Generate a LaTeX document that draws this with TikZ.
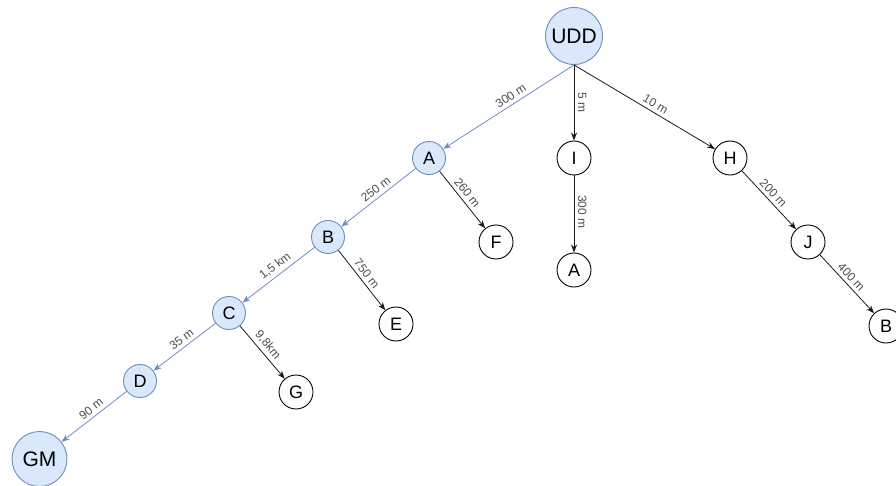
\documentclass[tikz,border=0pt]{standalone}
\usepackage{fontspec}
\setmainfont{Liberation Sans}
\usetikzlibrary{arrows.meta}
\definecolor{bluefill}{HTML}{DAE8FC}
\definecolor{bluedraw}{HTML}{6C8EBF}
\definecolor{labelgray}{HTML}{4D4D4D}
\definecolor{edgedark}{HTML}{1A1A1A}
\tikzset{
  wnode/.style={circle, draw=black, fill=white, line width=0.9pt, inner sep=0pt, minimum size=34pt, font=\fontsize{18}{18}\selectfont},
  bnode/.style={circle, draw=bluedraw, fill=bluefill, line width=0.9pt, inner sep=0pt, minimum size=33pt, font=\fontsize{18}{18}\selectfont},
  bignode/.style={bnode, minimum size=57pt, font=\fontsize{21}{21}\selectfont},
  bedge/.style={draw=bluedraw, line width=0.8pt, -{Stealth[length=8pt,width=6pt,inset=2.5pt]}},
  kedge/.style={draw=edgedark, line width=0.8pt, -{Stealth[length=8pt,width=6pt,inset=2.5pt]}},
  lbl/.style={sloped, above, pos=0.47, font=\fontsize{12}{12}\selectfont, text=labelgray, inner sep=3.5pt}
}
\begin{document}
\begin{tikzpicture}[x=1pt,y=-1pt]
\useasboundingbox (0,0) rectangle (896,486);
\node[bignode] (udd) at (574,36) {UDD};
\node[bnode] (a) at (429,158) {A};
\node[wnode] (i) at (574,158) {I};
\node[wnode] (h) at (730,158) {H};
\node[bnode] (b) at (328,237) {B};
\node[wnode] (f) at (496,242) {F};
\node[wnode] (a2) at (574,270) {A};
\node[wnode] (j) at (808,242) {J};
\node[bnode] (c) at (229,313) {C};
\node[wnode] (e) at (396,324) {E};
\node[wnode] (b2) at (886,326) {B};
\node[bnode] (d) at (140,381) {D};
\node[wnode] (g) at (296,392) {G};
\node[bignode, minimum size=55pt] (gm) at (39.5,459) {GM};

\draw[bedge] (udd.south) -- node[lbl, pos=0.45] {300 m} (a);
\draw[kedge] (udd.south) -- node[lbl, pos=0.5] {5 m} (i);
\draw[kedge] (udd.south) -- node[lbl, pos=0.55] {10 m} (h);
\draw[bedge] (a) -- node[lbl] {250 m} (b);
\draw[kedge] (a) -- node[lbl] {260 m} (f);
\draw[kedge] (i) -- node[lbl] {300 m} (a2);
\draw[kedge] (h) -- node[lbl] {200 m} (j);
\draw[bedge] (b) -- node[lbl] {1,5 km} (c);
\draw[kedge] (b) -- node[lbl] {750 m} (e);
\draw[kedge] (j) -- node[lbl] {400 m} (b2);
\draw[bedge] (c) -- node[lbl] {35 m} (d);
\draw[kedge] (c) -- node[lbl] {9,8km} (g);
\draw[bedge] (d) -- node[lbl] {90 m} (gm);
\end{tikzpicture}
\end{document}
